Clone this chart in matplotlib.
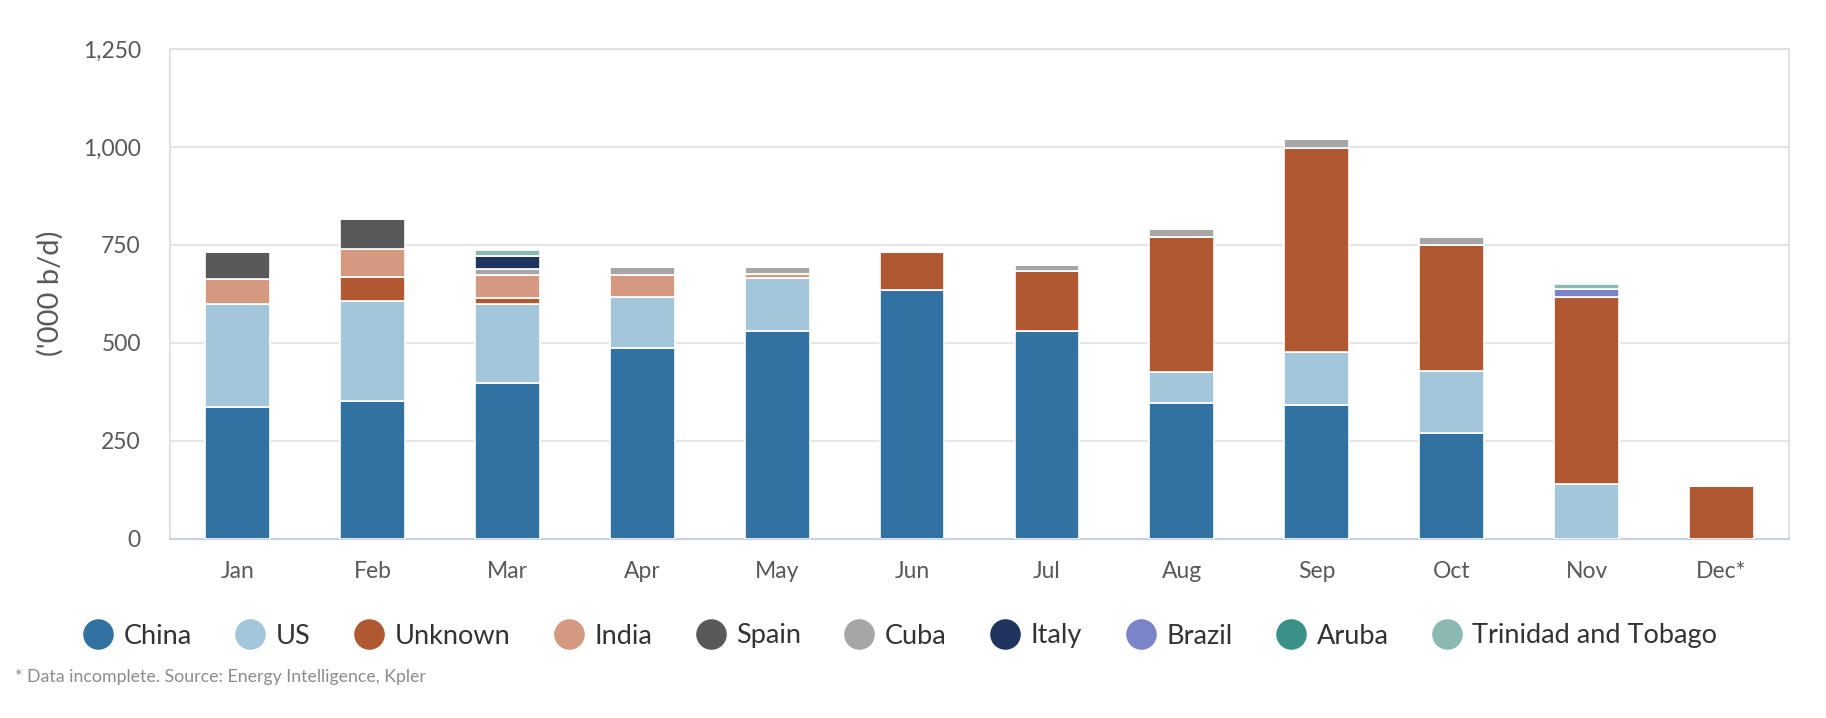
import matplotlib
matplotlib.use("Agg")
import matplotlib.pyplot as plt
from matplotlib.lines import Line2D
import numpy as np

plt.rcParams['font.family'] = ['Lato', 'DejaVu Sans']

months = ['Jan', 'Feb', 'Mar', 'Apr', 'May', 'Jun', 'Jul', 'Aug', 'Sep', 'Oct', 'Nov', 'Dec*']
china    = [337, 352, 396, 486, 530, 635, 531, 347, 342, 269,   0,   0]
us       = [263, 254, 204, 130, 134,   0,   0,  77, 135, 158, 139,   0]
unknown  = [  0,  61,  15,   0,   0,  96, 152, 345, 520, 322, 477, 134]
india    = [ 62,  71,  58,  57,  12,   0,   0,   0,   0,   0,   0,   0]
spain    = [ 69,  77,   0,   0,   0,   0,   0,   0,   0,   0,   0,   0]
cuba     = [  0,   0,  15,  21,  18,   0,  15,  21,  22,  22,   0,   0]
italy    = [  0,   0,  34,   0,   0,   0,   0,   0,   0,   0,   0,   0]
brazil   = [  0,   0,   0,   0,   0,   0,   0,   0,   0,   0,  22,   0]
aruba    = [  0,   0,   0,   0,   0,   0,   0,   0,   0,   0,   0,   0]
trinidad = [  0,   0,  15,   0,   0,   0,   0,   0,   0,   0,  12,   0]

series_names = ['China', 'US', 'Unknown', 'India', 'Spain', 'Cuba', 'Italy',
                'Brazil', 'Aruba', 'Trinidad and Tobago']
series_vals = [china, us, unknown, india, spain, cuba, italy, brazil, aruba, trinidad]
colors = ['#3272a2', '#a3c6da', '#b05832', '#d39a80', '#595959', '#a6a6a6',
          '#1f3560', '#7b83c9', '#3a9188', '#8ab8b3']

fig = plt.figure(figsize=(18.26, 7.18), dpi=100)
ax = fig.add_axes([170/1826, 1 - 538.5/718, (1789-170)/1826, (538.5-49)/718])

x = np.arange(len(months))
bottom = np.zeros(len(months))
for name, vals, c in zip(series_names, series_vals, colors):
    v = np.array(vals, dtype=float)
    ax.bar(x, v, bottom=bottom, width=0.48, color=c, edgecolor='white',
           linewidth=1.2, zorder=3)
    bottom += v

ax.set_xlim(-0.5, len(months) - 0.5)
ax.set_ylim(0, 1250)
ax.set_yticks([0, 250, 500, 750, 1000, 1250])
ax.set_yticklabels(['0', '250', '500', '750', '1,000', '1,250'])
ax.set_xticks(x)
ax.set_xticklabels(months)
ax.tick_params(axis='both', length=0, labelsize=16.5, colors='#595959')
ax.tick_params(axis='y', pad=21)
ax.tick_params(axis='x', pad=16)
ax.yaxis.grid(True, color='#e6e6e6', linewidth=1.5, zorder=0)
ax.set_axisbelow(True)
for side in ['top', 'right', 'left']:
    ax.spines[side].set_color('#dcdce4')
    ax.spines[side].set_linewidth(1.2)
ax.spines['bottom'].set_color('#c9d0e2')
ax.spines['bottom'].set_linewidth(1.5)

ax.set_ylabel("('000 b/d)", fontsize=21, color='#595959', labelpad=14)

handles = [Line2D([0], [0], marker='o', linestyle='none', markersize=21,
                  markerfacecolor=c, markeredgecolor=c) for c in colors]
fig.legend(handles, series_names, loc='center', bbox_to_anchor=(0.4934, 1 - 636/718),
           ncol=10, frameon=False, fontsize=19.5, handlelength=1.0,
           handletextpad=0.45, columnspacing=1.65, labelcolor='#333333')

fig.text(15/1826, 1 - 677/718, '* Data incomplete. Source: Energy Intelligence, Kpler',
         fontsize=12.8, color='#8c8c8c', ha='left', va='center')

fig.savefig('out.png', dpi=100, facecolor='white')
